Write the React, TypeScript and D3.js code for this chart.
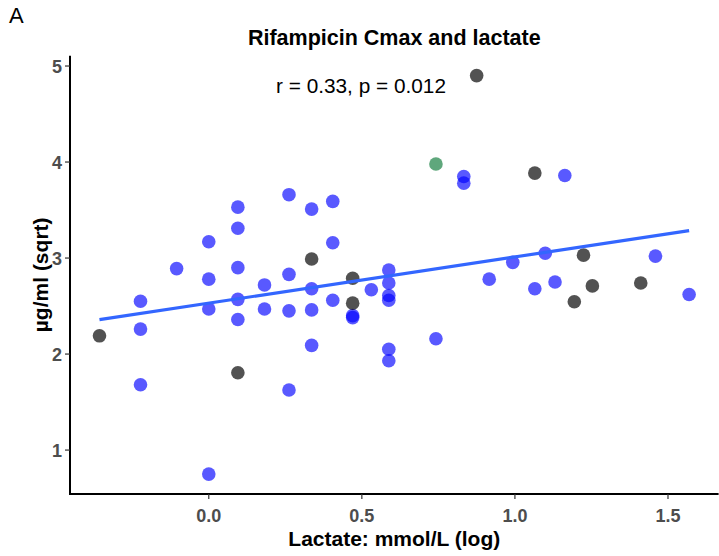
import React from "react";
import * as d3 from "d3";

// Lactate (natural log of mmol/L) and rifampicin Cmax (sqrt µg/ml)
const blueX = [
  -0.223, -0.223, -0.223,
  -0.105,
  0, 0, 0, 0,
  0.095, 0.095, 0.095, 0.095, 0.095,
  0.182, 0.182,
  0.262, 0.262, 0.262, 0.262,
  0.336, 0.336, 0.336, 0.336,
  0.405, 0.405, 0.405,
  0.47, 0.47,
  0.531,
  0.588, 0.588, 0.588, 0.588, 0.588, 0.588,
  0.742,
  0.833, 0.833,
  0.916,
  0.993,
  1.065,
  1.099,
  1.131,
  1.163,
  1.459,
  1.569,
];
const blueY = [
  2.55, 2.26, 1.68,
  2.89,
  3.17, 2.78, 2.47, 0.75,
  3.53, 3.31, 2.9, 2.57, 2.36,
  2.72, 2.47,
  3.66, 2.83, 2.45, 1.625,
  3.51, 2.68, 2.46, 2.09,
  3.59, 3.16, 2.56,
  2.4, 2.38,
  2.67,
  2.875, 2.74, 2.61, 2.56, 2.05, 1.93,
  2.16,
  3.85, 3.78,
  2.78,
  2.955,
  2.68,
  3.05,
  2.75,
  3.86,
  3.02,
  2.62,
];
const greyX = [-0.357, 0.095, 0.336, 0.47, 0.47, 0.875, 1.065, 1.194, 1.224, 1.253, 1.411];
const greyY = [2.19, 1.805, 2.99, 2.79, 2.53, 4.9, 3.885, 2.545, 3.03, 2.71, 2.74];
const greenX = [0.742];
const greenY = [3.98];

const xTicks = [0, 0.5, 1.0, 1.5];
const yTicks = [1, 2, 3, 4, 5];

const title = "Rifampicin Cmax and lactate";
const statLabel = "r = 0.33, p = 0.012";
const xLabel = "Lactate: mmol/L (log)";
const yLabel = "µg/ml (sqrt)";
const panelLetter = "A";

const W = 719;
const H = 556;
const left = 70;
const right = 718.6;
const top = 55.7;
const bottom = 494;

const FONT = "'Liberation Sans', Arial, Helvetica, sans-serif";

export default function App() {
  const allX = [...blueX, ...greyX, ...greenX];
  const allY = [...blueY, ...greyY, ...greenY];
  const [x0, x1] = d3.extent(allX) as [number, number];
  const [y0, y1] = d3.extent(allY) as [number, number];
  const ex = (x1 - x0) * 0.05;
  const ey = (y1 - y0) * 0.05;
  const xScale = d3.scaleLinear().domain([x0 - ex, x1 + ex]).range([left, right]);
  const yScale = d3.scaleLinear().domain([y0 - ey, y1 + ey]).range([bottom, top]);

  // least squares fit over all points
  const mx = d3.mean(allX)!;
  const my = d3.mean(allY)!;
  let sxy = 0;
  let sxx = 0;
  allX.forEach((v, i) => {
    sxy += (v - mx) * (allY[i] - my);
    sxx += (v - mx) * (v - mx);
  });
  const slope = sxy / sxx;
  const intercept = my - slope * mx;
  const fitLine = d3
    .line<number>()
    .x((d) => xScale(d))
    .y((d) => yScale(intercept + slope * d));

  const r = 6.8;
  const cx = (left + right) / 2;

  return (
    <div style={{ position: "absolute", left: 0, top: 0 }}>
      <svg width={W} height={H} style={{ display: "block", background: "#fff" }}>
        <text x={9} y={23} fontFamily={FONT} fontSize={22} fill="#000">
          {panelLetter}
        </text>
        <text x={cx} y={45} textAnchor="middle" fontFamily={FONT} fontSize={21.5} fontWeight="bold" fill="#000">
          {title}
        </text>

        {/* points */}
        {blueX.map((v, i) => (
          <circle key={"b" + i} cx={xScale(v)} cy={yScale(blueY[i])} r={r} fill="#0000FF" fillOpacity={0.65} />
        ))}
        {greyX.map((v, i) => (
          <circle key={"g" + i} cx={xScale(v)} cy={yScale(greyY[i])} r={r} fill="#000" fillOpacity={0.68} />
        ))}
        {greenX.map((v, i) => (
          <circle key={"gr" + i} cx={xScale(v)} cy={yScale(greenY[i])} r={r} fill="#2a8a50" fillOpacity={0.75} />
        ))}

        <path d={fitLine([x0, x1]) || ""} stroke="#3366FF" strokeWidth={3.2} fill="none" />

        <text x={361} y={93} textAnchor="middle" fontFamily={FONT} fontSize={20.8} fill="#000">
          {statLabel}
        </text>

        {/* axes */}
        <line x1={left} x2={left} y1={top} y2={bottom + 1} stroke="#000" strokeWidth={2} />
        <line x1={left - 1} x2={right} y1={bottom} y2={bottom} stroke="#000" strokeWidth={2} />
        {yTicks.map((t) => (
          <g key={"yt" + t}>
            <line x1={left - 5} x2={left} y1={yScale(t)} y2={yScale(t)} stroke="#333" strokeWidth={1.2} />
            <text
              x={left - 8}
              y={yScale(t)}
              dy="0.36em"
              textAnchor="end"
              fontFamily={FONT}
              fontSize={18}
              fontWeight="bold"
              fill="#4D4D4D"
            >
              {t}
            </text>
          </g>
        ))}
        {xTicks.map((t) => (
          <g key={"xt" + t}>
            <line x1={xScale(t)} x2={xScale(t)} y1={bottom} y2={bottom + 5} stroke="#333" strokeWidth={1.2} />
            <text
              x={xScale(t)}
              y={522}
              textAnchor="middle"
              fontFamily={FONT}
              fontSize={18}
              fontWeight="bold"
              fill="#4D4D4D"
            >
              {d3.format(".1f")(t)}
            </text>
          </g>
        ))}
        <text x={cx} y={546} textAnchor="middle" fontFamily={FONT} fontSize={21} fontWeight="bold" fill="#000">
          {xLabel}
        </text>
        <text
          transform={`translate(48, ${(top + bottom) / 2}) rotate(-90)`}
          textAnchor="middle"
          fontFamily={FONT}
          fontSize={21}
          fontWeight="bold"
          fill="#000"
        >
          {yLabel}
        </text>
      </svg>
    </div>
  );
}
